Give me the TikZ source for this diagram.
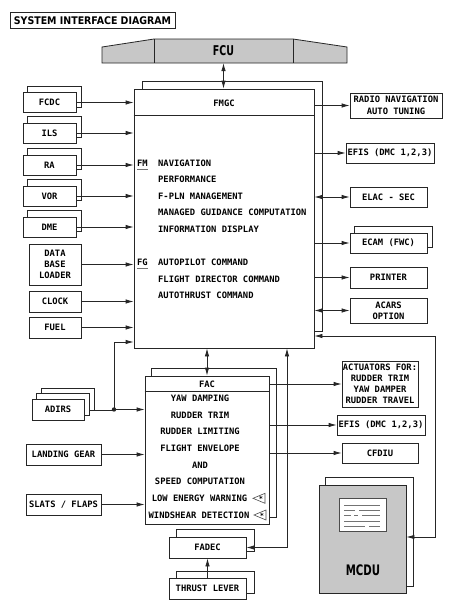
\documentclass[tikz,border=0pt]{standalone}
\usepackage{fontspec}
\usetikzlibrary{arrows.meta,calc}
\newfontfamily\mfont{DejaVu Sans Mono}
\newfontfamily\tfont{DejaVu Sans Condensed Bold}
\newfontfamily\nfont{DejaVu Sans Condensed Bold}[FakeStretch=0.78]
\newcommand\shad[3]{\draw[ln] ($(#1.north west)+(#2,0)$) -- ++(0,-#3) -| ($(#1.south east)+(#2,-#3)$) -- ($(#1.south east)+(0,-#3)$);}
\newcommand\warnmark[2]{\draw[black!70,line width=0.6pt] (#1+6,#2-5) -- (#1-6,#2) -- (#1+6,#2+5) -- cycle;
  \node[inner sep=0pt,font=\mfont\bfseries\fontsize{7}{8}\selectfont] at (#1+2,#2+0.5) {*};}
\begin{document}
\begin{tikzpicture}[x=1pt,y=-1pt,
  ln/.style={draw=black!85,line width=0.8pt},
  box/.style={draw=black!85,line width=0.8pt,fill=white,inner sep=0pt,align=center,font=\mfont\bfseries\fontsize{8.8}{11}\selectfont},
  txt/.style={inner sep=0pt,font=\mfont\bfseries\fontsize{8.8}{11}\selectfont},
  arr/.style={ln,-{Latex[length=8pt,width=4.5pt]}},
  darr/.style={ln,{Latex[length=8pt,width=4.5pt]}-{Latex[length=8pt,width=4.5pt]}},
  shade/.style={fill=black!22}
]
\useasboundingbox[fill=white] (0,0) rectangle (454,608);

% title
\node[box,line width=1pt,minimum width=165pt,minimum height=16.5pt] (title) at (92.5,20.5)
  {\tfont\fontsize{10.5}{12}\selectfont SYSTEM INTERFACE DIAGRAM};

% FCU
\path[shade,ln] (102,47) -- (154,39) -- (293,39) -- (347,47) -- (347,63) -- (102,63) -- cycle;
\draw[ln] (154,39) -- (154,63) (293,39) -- (293,63);
\node[inner sep=0pt,minimum width=139pt,minimum height=24pt,font=\nfont\fontsize{13.5}{16}\selectfont] (fcu) at (223.5,51) {FCU};

% FMGC
\draw[ln] (142,89) -- (142,81) -- (322,81) -- (322,331) -- (314,331);
\node[box,minimum width=180pt,minimum height=259pt] (fmgc) at (224,218.5) {};
\draw[ln] ($(fmgc.north west)+(0,27)$) -- ($(fmgc.north east)+(0,27)$);
\node[txt] (fmgct) at (224,103) {FMGC};
\draw[darr] (fcu.south) -- (fcu.south |- fmgc.north);

\node[txt,anchor=west] (fm) at (137,163) {FM};
\draw[black!55,line width=0.7pt] ($(fm.south west)+(0,3)$) -- ($(fm.south east)+(0,3)$);
\node[txt,anchor=west] (fg) at (137,262) {FG};
\draw[black!55,line width=0.7pt] ($(fg.south west)+(0,3)$) -- ($(fg.south east)+(0,3)$);
\foreach \t/\y [count=\i] in {NAVIGATION/163, PERFORMANCE/179, F-PLN MANAGEMENT/196,
  MANAGED GUIDANCE COMPUTATION/212, INFORMATION DISPLAY/229, AUTOPILOT COMMAND/262,
  FLIGHT DIRECTOR COMMAND/279, AUTOTHRUST COMMAND/295}
  \node[txt,anchor=west] (fmt\i) at (158,\y) {\t};

% left inputs with shadows
\foreach \n/\t/\y in {fcdc/FCDC/102.5, ils/ILS/133, ra/RA/165, vor/VOR/196, dme/DME/227} {
  \node[box,minimum width=53pt,minimum height=20pt] (\n) at (49.5,\y) {\t};
  \draw[arr] (\n.east) -- (\n.east -| fmgc.west);
}
\shad{fcdc}{5}{6}\shad{ils}{5}{6}\shad{ra}{5}{6}\shad{vor}{5}{6}\shad{dme}{5}{6}
\node[box,minimum width=52pt,minimum height=41pt] (dbl) at (55,264.5) {DATA\\BASE\\LOADER};
\draw[arr] (dbl.east) -- (dbl.east -| fmgc.west);
\node[box,minimum width=52pt,minimum height=21pt] (clock) at (55,301.5) {CLOCK};
\draw[arr] (clock.east) -- (clock.east -| fmgc.west);
\node[box,minimum width=52pt,minimum height=21pt] (fuel) at (55,327.5) {FUEL};
\draw[arr] (fuel.east) -- (fuel.east -| fmgc.west);

% right outputs
\node[box,minimum width=92pt,minimum height=25pt,font=\mfont\bfseries\fontsize{8.8}{12.5}\selectfont] (radio) at (396,105.5) {RADIO NAVIGATION\\AUTO TUNING};
\draw[arr] (fmgc.east |- radio.west) -- (radio.west);
\node[box,minimum width=88pt,minimum height=20pt] (efisa) at (390,153) {EFIS (DMC 1,2,3)};
\draw[arr] (fmgc.east |- efisa.west) -- (efisa.west);
\node[box,minimum width=77pt,minimum height=20pt] (elac) at (388.5,197) {ELAC - SEC};
\draw[darr] (fmgc.east |- elac.west) -- (elac.west);
\node[box,minimum width=77pt,minimum height=20pt] (ecam) at (388.5,243) {ECAM (FWC)};
\shad{ecam}{5}{6}
\draw[arr] (fmgc.east |- ecam.west) -- (ecam.west);
\node[box,minimum width=77pt,minimum height=21pt] (printer) at (388.5,277.5) {PRINTER};
\draw[arr] (fmgc.east |- printer.west) -- (printer.west);
\node[box,minimum width=77pt,minimum height=25pt] (acars) at (388.5,310.5) {ACARS\\OPTION};
\draw[darr] (fmgc.east |- acars.west) -- (acars.west);

% MCDU
\node[box,shade,minimum width=87pt,minimum height=108pt] (mcdu) at (362.5,539) {};
\shad{mcdu}{6.5}{7}
\node[draw=black!70,line width=0.7pt,fill=white,inner sep=0pt,minimum width=47pt,minimum height=33pt] (scr) at (362.5,514.5) {};
\draw[black!55,line width=0.7pt]
  (344,505) -- (380,505)
  (344,510) -- (355,510) (359,510) -- (380,510)
  (344,515) -- (351,515) (354,515) -- (358,515) (362,515) -- (380,515)
  (344,521) -- (380,521)
  (344,526) -- (365,526) (369,526) -- (380,526);
\node[inner sep=0pt,font=\nfont\fontsize{14.5}{17}\selectfont] (mcdut) at (363,570) {MCDU};
\coordinate (mc1) at (435,336);
\coordinate (mc2) at (435,537);
\draw[darr] (fmgc.east |- mc1) -- (mc1) -- (mc2) -- (mcdu.east |- mc2);

% FAC
\node[box,minimum width=124pt,minimum height=148pt] (fac) at (207,450) {};
\shad{fac}{7}{7}
\draw[ln] ($(fac.north west)+(0,16)$) -- ($(fac.north east)+(0,16)$);
\node[txt] (fact) at (207,384) {FAC};
\foreach \t/\y [count=\i] in {YAW DAMPING/398.3, RUDDER TRIM/415, RUDDER LIMITING/431.7,
  FLIGHT ENVELOPE/448.3, AND/465, SPEED COMPUTATION/481.7}
  \node[txt] (fct\i) at (200,\y) {\t};
\node[txt] (fct7) at (199.5,498.3) {LOW ENERGY WARNING};
\node[txt] (fct8) at (199,515) {WINDSHEAR DETECTION};
\warnmark{259}{498.3}
\warnmark{260}{515}
\draw[darr] (fac.north |- fmgc.south) -- (fac.north);

% ADIRS
\node[box,minimum width=52pt,minimum height=21pt] (adirs) at (58,409.5) {ADIRS};
\shad{adirs}{5}{5}
\draw[ln] ($(adirs.north west)+(10,-5)$) -- ++(0,-5) -| ($(adirs.south east)+(10,-10)$) -- ($(adirs.south east)+(5,-10)$);
\coordinate (adr) at ($(adirs.south east)+(10,-10)$);
\coordinate (jn) at (114,409.5);
\coordinate (up) at (114,342);
\draw[ln] (adr) -- (adr -| jn);
\draw[arr] (jn) -- (jn -| fac.west);
\draw[arr] (jn) -- (up) -- (up -| fmgc.west);
\fill[black!85] (jn) circle (2.2pt);

\node[box,minimum width=75pt,minimum height=21pt] (lg) at (63.5,454.5) {LANDING GEAR};
\draw[arr] (lg.east) -- (lg.east -| fac.west);
\node[box,minimum width=75pt,minimum height=21pt] (sf) at (63.5,504.5) {SLATS / FLAPS};
\draw[arr] (sf.east) -- (sf.east -| fac.west);

% FAC outputs
\node[box,minimum width=76pt,minimum height=46pt] (act) at (380,384) {ACTUATORS FOR:\\RUDDER TRIM\\YAW DAMPER\\RUDDER TRAVEL};
\draw[arr] (fac.east |- act.west) -- (act.west);
\node[box,minimum width=88pt,minimum height=20pt] (efisb) at (381,425) {EFIS (DMC 1,2,3)};
\draw[arr] (fac.east |- efisb.west) -- (efisb.west);
\node[box,minimum width=76pt,minimum height=20pt] (cfdiu) at (380,453) {CFDIU};
\draw[arr] (fac.east |- cfdiu.west) -- (cfdiu.west);

% FADEC, thrust lever
\node[box,minimum width=77pt,minimum height=21pt] (fadec) at (207.5,547.5) {FADEC};
\shad{fadec}{7.5}{7}
\node[box,minimum width=77pt,minimum height=21pt] (thrust) at (207.5,588.5) {THRUST LEVER};
\shad{thrust}{7.5}{6}
\draw[arr] (thrust.north) -- (fadec.south);
\coordinate (fd) at (287,547.5);
\draw[darr] (fadec.east) -- (fd) -- (fd |- fmgc.south);
\end{tikzpicture}
\end{document}
